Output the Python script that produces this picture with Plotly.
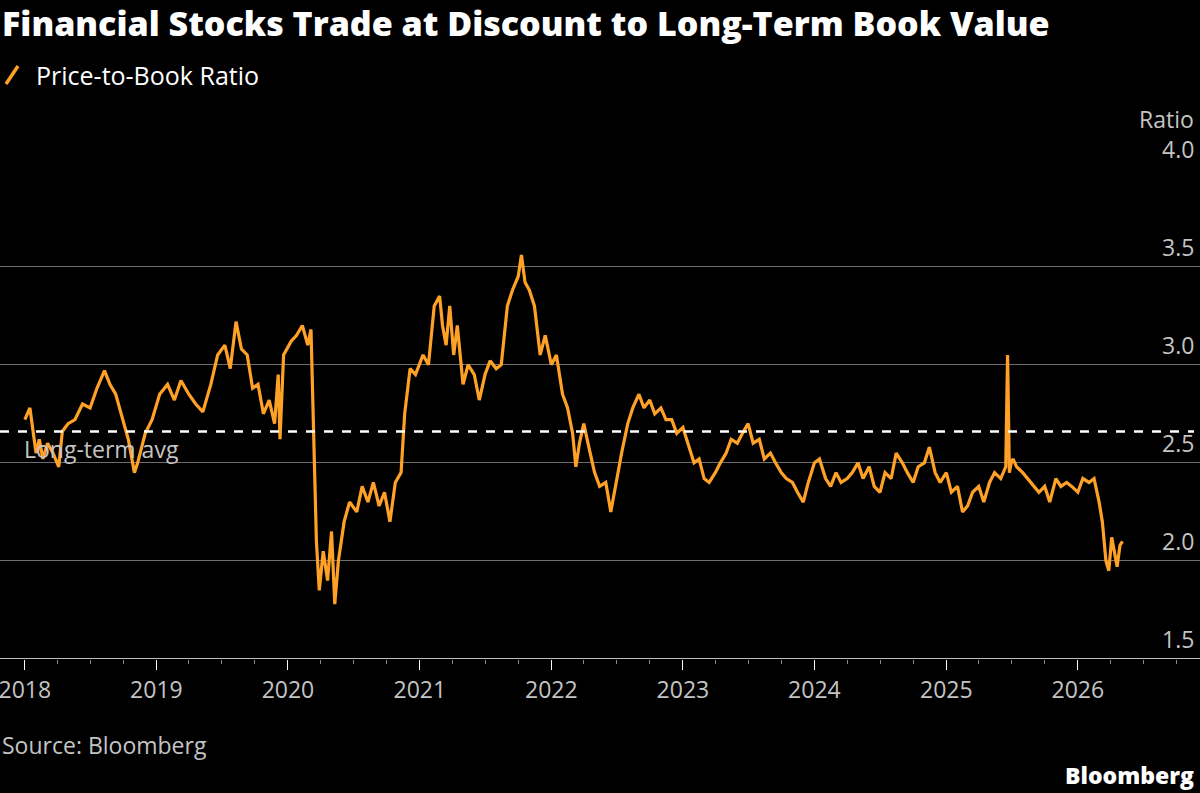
import plotly.graph_objects as go

dates = [
    "2018-01-01", "2018-01-15", "2018-02-01", "2018-02-10", "2018-02-20", "2018-03-05", "2018-03-20",
    "2018-04-05", "2018-04-15", "2018-05-01", "2018-05-20", "2018-06-10", "2018-07-01", "2018-07-20",
    "2018-08-10", "2018-08-25", "2018-09-10", "2018-10-01", "2018-10-15", "2018-11-01", "2018-11-10",
    "2018-12-01", "2018-12-20", "2019-01-10", "2019-02-01", "2019-02-20", "2019-03-10", "2019-04-01",
    "2019-04-20", "2019-05-10", "2019-06-01", "2019-06-20", "2019-07-10", "2019-07-25", "2019-08-10",
    "2019-08-25", "2019-09-10", "2019-09-25", "2019-10-10", "2019-10-25", "2019-11-10", "2019-11-25",
    "2019-12-05", "2019-12-10", "2019-12-20", "2020-01-10", "2020-01-25", "2020-02-10", "2020-02-25",
    "2020-03-05", "2020-03-12", "2020-03-20", "2020-03-28", "2020-04-08", "2020-04-20", "2020-05-01",
    "2020-05-10", "2020-05-20", "2020-06-05", "2020-06-20", "2020-07-10", "2020-07-25", "2020-08-10",
    "2020-08-25", "2020-09-10", "2020-09-25", "2020-10-10", "2020-10-25", "2020-11-10", "2020-11-20",
    "2020-12-05", "2020-12-20", "2021-01-10", "2021-01-25", "2021-02-10", "2021-02-25", "2021-03-05",
    "2021-03-15", "2021-03-25", "2021-04-05", "2021-04-15", "2021-05-01", "2021-05-15", "2021-06-01",
    "2021-06-15", "2021-07-01", "2021-07-15", "2021-08-01", "2021-08-15", "2021-09-01", "2021-09-15",
    "2021-10-01", "2021-10-10", "2021-10-20", "2021-11-01", "2021-11-15", "2021-12-01", "2021-12-15",
    "2022-01-01", "2022-01-15", "2022-02-01", "2022-02-15", "2022-03-01", "2022-03-10", "2022-03-20",
    "2022-04-01", "2022-04-15", "2022-05-01", "2022-05-15", "2022-06-01", "2022-06-15", "2022-07-01",
    "2022-07-15", "2022-08-01", "2022-08-15", "2022-09-01", "2022-09-15", "2022-10-01", "2022-10-15",
    "2022-11-01", "2022-11-15", "2022-12-01", "2022-12-15", "2023-01-01", "2023-01-15", "2023-02-01",
    "2023-02-15", "2023-03-01", "2023-03-15", "2023-04-01", "2023-04-15", "2023-05-01", "2023-05-15",
    "2023-06-01", "2023-06-15", "2023-07-01", "2023-07-15", "2023-08-01", "2023-08-15", "2023-09-01",
    "2023-09-15", "2023-10-01", "2023-10-15", "2023-11-01", "2023-11-15", "2023-12-01", "2023-12-15",
    "2024-01-01", "2024-01-15", "2024-02-01", "2024-02-15", "2024-03-01", "2024-03-15", "2024-04-01",
    "2024-04-15", "2024-05-01", "2024-05-15", "2024-06-01", "2024-06-15", "2024-07-01", "2024-07-15",
    "2024-08-01", "2024-08-15", "2024-09-01", "2024-09-15", "2024-10-01", "2024-10-15", "2024-11-01",
    "2024-11-15", "2024-12-01", "2024-12-15", "2025-01-01", "2025-01-15", "2025-02-01", "2025-02-15",
    "2025-03-01", "2025-03-15", "2025-04-01", "2025-04-15", "2025-05-01", "2025-05-15", "2025-06-01",
    "2025-06-15", "2025-06-20", "2025-06-25", "2025-06-30", "2025-07-05", "2025-07-15", "2025-08-01",
    "2025-08-15", "2025-09-01", "2025-09-15", "2025-10-01", "2025-10-15", "2025-11-01", "2025-11-15",
    "2025-12-01", "2025-12-15", "2026-01-01", "2026-01-15", "2026-02-01", "2026-02-15", "2026-03-01",
    "2026-03-10", "2026-03-20", "2026-03-28", "2026-04-05", "2026-04-12", "2026-04-20", "2026-04-28",
    "2026-05-05",
]
ratio = [
    2.72, 2.78, 2.55, 2.62, 2.52, 2.6, 2.55,
    2.48, 2.66, 2.7, 2.72, 2.8, 2.78, 2.88,
    2.97, 2.9, 2.85, 2.72, 2.62, 2.45, 2.5,
    2.65, 2.72, 2.85, 2.9, 2.82, 2.92, 2.85,
    2.8, 2.76, 2.9, 3.05, 3.1, 2.98, 3.22,
    3.08, 3.05, 2.88, 2.9, 2.75, 2.82, 2.7,
    2.95, 2.62, 3.05, 3.12, 3.15, 3.2, 3.1,
    3.18, 2.7, 2.1, 1.85, 2.05, 1.9, 2.15,
    1.78, 2.0, 2.2, 2.3, 2.25, 2.38, 2.3,
    2.4, 2.28, 2.35, 2.2, 2.4, 2.45, 2.75,
    2.98, 2.95, 3.05, 3.0, 3.3, 3.35, 3.2,
    3.1, 3.3, 3.05, 3.2, 2.9, 3.0, 2.95,
    2.82, 2.95, 3.02, 2.98, 3.0, 3.3, 3.38,
    3.45, 3.56, 3.42, 3.38, 3.3, 3.05, 3.15,
    3.0, 3.05, 2.85, 2.78, 2.65, 2.48, 2.6,
    2.7, 2.58, 2.45, 2.38, 2.4, 2.25, 2.42,
    2.55, 2.7, 2.78, 2.85, 2.78, 2.82, 2.75,
    2.78, 2.72, 2.72, 2.65, 2.68, 2.6, 2.5,
    2.52, 2.42, 2.4, 2.45, 2.5, 2.55, 2.62,
    2.6, 2.65, 2.7, 2.6, 2.62, 2.52, 2.55,
    2.5, 2.45, 2.42, 2.4, 2.35, 2.3, 2.4,
    2.5, 2.52, 2.42, 2.38, 2.45, 2.4, 2.42,
    2.45, 2.5, 2.42, 2.48, 2.38, 2.35, 2.45,
    2.42, 2.55, 2.5, 2.45, 2.4, 2.48, 2.5,
    2.58, 2.45, 2.4, 2.45, 2.35, 2.38, 2.25,
    2.28, 2.35, 2.38, 2.3, 2.4, 2.45, 2.42,
    2.48, 3.05, 2.45, 2.5, 2.52, 2.48, 2.45,
    2.42, 2.38, 2.35, 2.38, 2.3, 2.42, 2.38,
    2.4, 2.38, 2.35, 2.42, 2.4, 2.42, 2.3,
    2.2, 2.0, 1.95, 2.12, 2.05, 1.97, 2.08,
    2.1,
]
long_term_avg = 2.66
y_ticks = [1.5, 2.0, 2.5, 3.0, 3.5, 4.0]
x_ticks = [str(y) for y in range(2018, 2027)]

W, H = 1200, 793
TOP, BOT = 168, 659
ORANGE = "#ffa126"
GREY = "#c4c4c4"
FONT = "Open Sans, Liberation Sans, sans-serif"


def py(px):
    # pixel row -> paper y
    return (BOT - px) / (BOT - TOP)


fig = go.Figure()
fig.add_trace(go.Scatter(x=dates, y=ratio, mode="lines",
                         line=dict(color=ORANGE, width=3.2), hoverinfo="skip"))
fig.add_shape(type="line", xref="paper", x0=0, x1=0.995, yref="y",
              y0=long_term_avg, y1=long_term_avg,
              line=dict(color="white", width=2.5, dash="dash"))

ann = [
    dict(text="Financial Stocks Trade at Discount to Long-Term Book Value",
         x=0, y=py(23), xanchor="left", yanchor="middle",
         font=dict(size=34, color="white", family=FONT, weight=800)),
    dict(text="Price-to-Book Ratio", x=34 / W, y=py(75), xanchor="left", yanchor="middle",
         font=dict(size=25, color="white")),
    dict(text="Ratio", x=0.997, y=py(119), xanchor="right", yanchor="middle",
         font=dict(size=23, color=GREY)),
    dict(text="Long-term avg", x=22 / W, xref="paper", y=long_term_avg, yref="y",
         xanchor="left", yanchor="top", yshift=0, font=dict(size=23, color=GREY)),
    dict(text="Source: Bloomberg", x=0, y=py(745), xanchor="left", yanchor="middle",
         font=dict(size=23, color=GREY)),
    dict(text="Bloomberg", x=0.997, y=py(775), xanchor="right", yanchor="middle",
         font=dict(size=23, color="white", weight=800)),
]
for t in y_ticks:
    ann.append(dict(text=f"{t:.1f}", x=0.997, y=t, yref="y", xanchor="right",
                    yanchor="bottom", yshift=2, showarrow=False,
                    font=dict(size=23, color=GREY)))
for a in ann:
    a.setdefault("xref", "paper")
    a.setdefault("yref", "paper")
    a["showarrow"] = False
fig.update_layout(annotations=ann)

fig.add_shape(type="line", xref="paper", yref="paper", x0=6 / W, x1=18 / W,
              y0=py(84), y1=py(66), line=dict(color=ORANGE, width=3.5))

fig.update_layout(
    width=W, height=H, paper_bgcolor="black", plot_bgcolor="black",
    margin=dict(l=0, r=0, t=TOP, b=H - BOT),
    showlegend=False,
    font=dict(family=FONT, color=GREY),
    xaxis=dict(range=["2017-10-24", "2026-12-06"], tickvals=[f"{y}-01-01" for y in x_ticks],
               ticktext=x_ticks, tickfont=dict(size=23, color=GREY), ticks="outside",
               ticklabeloverflow="allow",
               ticklen=10, tickcolor="white", showgrid=False, showline=False, zeroline=False,
               minor=dict(dtick="M3", ticks="outside", ticklen=4, tickcolor="#888")),
    yaxis=dict(range=[1.5, 4.003], tickvals=y_ticks, showticklabels=False,
               gridcolor="#6e6e6e", gridwidth=1, zeroline=False),
)
fig.add_shape(type="line", xref="paper", yref="y", x0=0, x1=1, y0=1.5, y1=1.5,
              line=dict(color="white", width=1.5))

fig.write_html("out.html", config={"displayModeBar": False},
               post_script="document.body.style.margin='0';")
